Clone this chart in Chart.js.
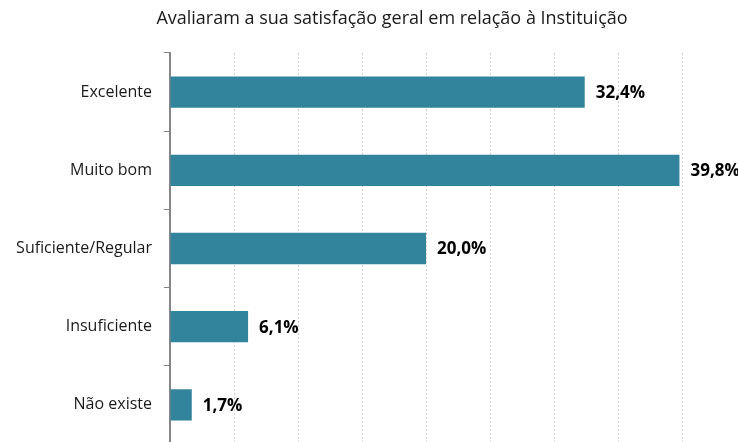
<!DOCTYPE html>
<html>
<head>
<meta charset="utf-8">
<script src="https://cdn.jsdelivr.net/npm/chart.js@4"></script>
<style>
  html, body { margin: 0; padding: 0; overflow: hidden; background: #ffffff; }
  #wrap { position: absolute; left: 0; top: 0; width: 738px; height: 450px; }
</style>
</head>
<body>
<div id="wrap"><canvas id="c" width="738" height="450"></canvas></div>
<script>
const titleText = 'Avaliaram a sua satisfação geral em relação à Instituição';
const categories = ['Excelente', 'Muito bom', 'Suficiente/Regular', 'Insuficiente', 'Não existe'];
const values = [32.4, 39.8, 20.0, 6.1, 1.7];
const axisMin = 0;
const axisMax = 40;
const axisStep = 5;

const FONT = '"Open Sans", "Noto Sans", sans-serif';

const titlePlugin = {
  id: 'customTitle',
  afterDraw(chart) {
    const ctx = chart.ctx;
    ctx.save();
    ctx.font = '18px ' + FONT;
    ctx.fillStyle = '#1a1a1a';
    ctx.textAlign = 'center';
    ctx.textBaseline = 'middle';
    ctx.fillText(titleText, 392, 19);
    ctx.restore();
  }
};

const valueLabels = {
  id: 'valueLabels',
  afterDatasetsDraw(chart) {
    const ctx = chart.ctx;
    const meta = chart.getDatasetMeta(0);
    ctx.save();
    ctx.font = 'bold 17px ' + FONT;
    ctx.fillStyle = '#000000';
    ctx.textAlign = 'left';
    ctx.textBaseline = 'middle';
    meta.data.forEach((bar, i) => {
      const txt = values[i].toFixed(1).replace('.', ',') + '%';
      ctx.fillText(txt, bar.x + 11, bar.y + 1);
    });
    ctx.restore();
  }
};

new Chart(document.getElementById('c'), {
  type: 'bar',
  data: {
    labels: categories,
    datasets: [{
      data: values,
      backgroundColor: '#31849b',
      borderWidth: 0,
      barPercentage: 0.8,
      categoryPercentage: 0.5
    }]
  },
  options: {
    indexAxis: 'y',
    responsive: false,
    animation: false,
    layout: { padding: { top: 53, right: 56, bottom: 6, left: 0 } },
    plugins: {
      legend: { display: false },
      title: { display: false },
      tooltip: { enabled: false }
    },
    scales: {
      x: {
        min: axisMin,
        max: axisMax,
        afterFit(scale) { scale.height = 0; scale.paddingLeft = 0; scale.paddingRight = 0; },
        ticks: { display: false, stepSize: axisStep },
        grid: { color: '#cfcfcf', lineWidth: 1, drawTicks: false },
        border: { display: false, dash: [2, 2] }
      },
      y: {
        afterFit(scale) { scale.width = 170; scale.paddingTop = 0; scale.paddingBottom = 0; },
        ticks: {
          color: '#1a1a1a',
          font: { family: FONT, size: 16 },
          padding: 12
        },
        grid: {
          drawOnChartArea: false,
          drawTicks: true,
          tickLength: 6,
          color: '#808080',
          lineWidth: 1,
          offset: true
        },
        border: { display: true, color: '#868686', width: 2 }
      }
    }
  },
  plugins: [titlePlugin, valueLabels]
});
</script>
</body>
</html>
